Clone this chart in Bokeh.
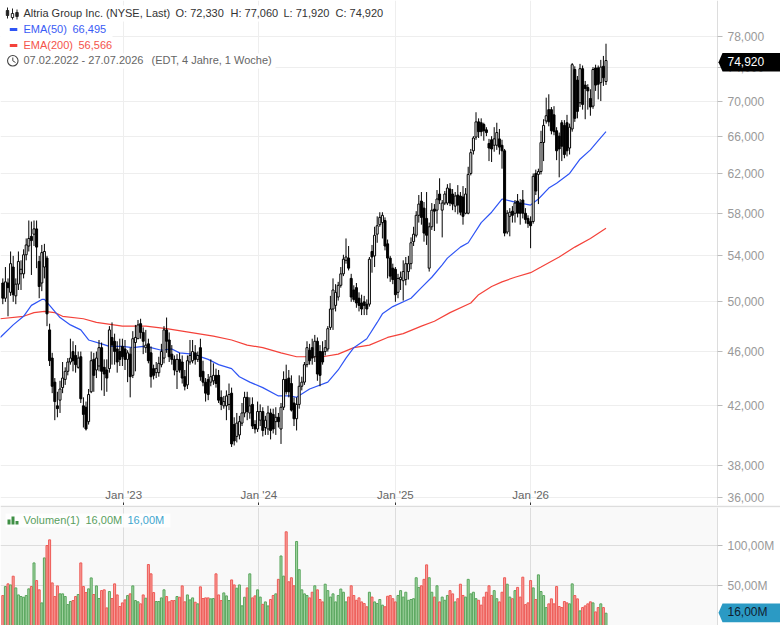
import math
from bokeh.plotting import figure
from bokeh.layouts import column
from bokeh.models import Range1d, FixedTicker, Label, ColumnDataSource
from bokeh.embed import file_html
from bokeh.resources import INLINE

title = "Altria Group Inc. (NYSE, Last)"
period = "07.02.2022 - 27.07.2026"
span = "(EDT, 4 Jahre, 1 Woche)"
last_price = 74.92
last_volume = 16.0

price_ticks = [78, 74, 70, 66, 62, 58, 54, 50, 46, 42, 38, 36]
volume_ticks = [100, 50]
jan_ticks = [46.5, 98.5, 151, 203]
jan_labels = ["Jan '23", "Jan '24", "Jan '25", "Jan '26"]

opens = [
51.6,50.3,51.6,50.8,53,50.5,51.5,52.4,52.4,54.1,
54.9,55.8,56,56.5,53.5,51.6,53,53.8,47.7,45.5,
43.7,42,42.4,43.3,43.9,44.5,45.2,46,45.7,44.8,
45.6,42,41.9,40.9,43,45.4,44.6,44.9,46.3,44.8,
44.6,44.7,47.1,46.8,46.2,46,46.4,46.2,45.4,45.8,
44.2,46.7,47,48.2,47.5,46.3,46.6,45.9,44.7,44.4,
44.4,45,45.5,47.7,46.9,45.8,45.4,44.5,45.4,45.2,
44.1,43.5,45.2,45.3,45.9,45.4,46.3,44.5,43.7,43.9,
43.7,43.8,44.2,44.2,42.6,42,42,42.1,42.9,40.7,
39.9,40,40.8,41.5,42.6,41.5,42.1,40.7,40.4,41,
41.6,40.5,40.4,41.5,41.4,40.9,41.2,40.4,41.9,43.9,
44,43.6,42.2,41.1,42.1,43.4,43.7,45,46.1,46.3,
45.6,46.8,46,46,46,46.2,47.9,49.4,49.7,50.4,
51.4,52.4,53.6,53.8,52,51,51.2,50.3,49.9,50,
49.8,49.8,54.4,54,56,56.9,57.1,57.3,55.1,53.8,
52.9,52.8,50.8,51.9,51.8,51.9,52.6,53.3,55.3,55.9,
57.8,59.2,58.5,57.5,52.9,56.7,58.4,58.3,59.9,58.3,
59,59,60.4,59.9,58.7,59.8,59.7,59.6,58,58,
62,64.4,65.9,67.6,67.5,67.3,66.7,65.2,65.6,65,
65,65.7,65,64.4,56.2,57.7,58.2,58,59.2,59,
59.3,58,57.5,57.2,57.2,62,61.9,62.2,65.3,67.7,
69,69,68.4,66.6,66,67.5,67.2,67.5,64.7,66.8,
73.8,72.5,69.8,73.9,71.9,71.6,70.3,69.4,74,74,
72.2,74.2,72.33]

highs = [
52,53,52,54.4,54,52,54.4,53.6,54.6,55.6,
57.3,57.2,57.3,57.3,54,55,55.1,54,48.2,45.9,
44,43,43.8,45.2,44.8,45.5,47,46.8,46.5,46,
46,42.6,42.3,43.2,46,45.9,46,46.9,46.7,45.4,
45.4,48,48.3,47.4,46.8,47,47,46.9,46.1,46.3,
47.6,48.1,48.5,48.6,47.9,47.7,47,46.4,45,45.2,
45.6,46.6,48,48.7,47.5,46.5,45.7,45.8,45.9,45.7,
44.6,45.7,46.9,46.9,46.5,46,47,45.3,44,44.3,
45.4,45.1,44.7,44.6,43.1,42.7,43.1,43.6,43.3,41.2,
41.5,41.3,42.2,43,43,42.6,42.6,41,42.3,42.1,
41.9,41.3,42,41.8,41.8,41.9,41.5,42.2,44.5,45,
44.6,44.2,42.6,42.6,44.2,44.1,45.2,46.8,46.6,47,
47.3,47.1,46.5,46.8,46.9,48,50.5,52,51.5,51.7,
53,54.1,55.6,54.9,52.4,51.4,51.6,50.8,50.6,50.5,
50.2,53.9,55,56.7,57.7,58.1,58.1,57.6,55.5,54,
53.3,53,52.4,52.6,53.6,53.9,54,55.7,56.7,58.2,
59.8,60.1,59.1,60.1,57.1,59,58.9,60.3,61.5,59.3,
60.2,60.9,61,60.4,60.1,60.8,60.1,60.7,60.5,62.7,
64.6,66,68.7,68,68,67.5,67,65.7,66,67,
67.5,66.8,65.6,64.6,58.3,58.5,58.7,59.3,59.9,59.4,
60.3,58.5,57.8,57.7,62,62.4,62.5,66.6,67.9,70.4,
70.8,69.3,69.4,67,66.4,67.8,67.8,68.4,67.4,74.6,
74.2,73,74.5,74.3,72.4,72,71.4,74.1,74.4,74.3,
75,75.5,77.06]

lows = [
49.8,50,48.8,50.5,50,49.8,51,51,52,53.6,
54.4,52.3,54.9,52.9,50.3,50.9,52,48,44.9,42.9,
41,41.2,41.5,42.9,43.5,44.2,45,44.5,44.4,44.7,
42.2,40.5,40.3,40.7,42.9,43,44,44.5,43.1,42.7,
43,44.4,45,45,44.4,44.9,44.9,44.6,43.7,42.6,
44,44.5,47,47,45.8,45.9,45.1,43.3,43.9,44,
44.1,44.8,45.1,45.9,45.2,45,44.2,43.2,44.4,43.6,
43.1,43.2,45,45.1,45,45.2,43.8,43.4,42.3,42.4,
43.4,43.5,43.3,42.2,41.7,41.8,41,41.7,39.2,39.3,
39.5,39.7,40.6,41.2,41,41.1,40.4,40.1,40.2,40.6,
39.9,40,40,39.7,40.1,40,40.5,39.4,41.7,42.8,
42.6,41.6,40.6,40.3,41.8,43.1,43.5,44.8,45,45,
45.2,43.8,43.4,45,45.7,46,47.7,47.7,49.2,50.1,
51.2,52.2,53.3,52.7,50,50,49.5,49.2,48.9,48.9,
48.9,49.6,52.5,53,55.2,56.7,55.6,54.5,52,51.7,
51.5,50,50.3,51,50.1,51.4,51.9,52.8,54.9,55.7,
57.1,56.9,55.3,55,52.6,56.4,56.3,57,58.9,55.7,
58.8,58.8,58.7,58.3,58.1,57.9,57.8,56.9,57.9,57.9,
61.8,64,65.6,65.8,66,65.5,66,63.3,63.2,64.3,
64.5,64,62.5,55.8,56,55.8,57.1,57.1,57.6,56.9,
57.5,57,56.6,54.7,57,59.8,58.9,61.9,63.3,67.4,
67.1,66.2,66.1,63.4,61.6,63.3,63.6,63.8,64,66.5,
67.6,68,69.3,69,67.9,69,68.3,69.1,71.2,70.2,
70,71.8,71.92]

closes = [
50.3,51.7,51.2,53.3,50.6,51.5,53.5,52.8,54.1,55,
55.6,55.4,56.5,54.8,51.3,54.3,54.4,49,45.3,43.4,
42.3,41.8,43.2,44,44.5,45.2,45.5,45.3,45,45.5,
42.5,41.4,40.4,42.8,45.3,44.2,45.5,46.3,44.5,44.3,
44,47.7,46.5,46,45.2,45.4,45.6,45.4,45.9,44.1,
47,47.1,48.1,47.5,46.8,46.5,45.3,44.1,44.2,44.7,
45.1,46,47.7,46.8,45.6,45.4,44.6,45.4,44.6,44,
43.4,45.3,45.7,46,45.4,45.7,44.1,43.7,42.9,42.8,
44.1,44.2,43.6,42.4,42.1,42.3,42.7,42.8,39.4,39.6,
40.8,40.9,41.5,42.6,41.6,42,40.6,40.4,41.6,41.6,
40.3,41,41.5,40.3,40.4,41.2,40.9,41.9,43.9,43,
43,41.7,41.1,42.1,43.4,43.7,45,46.3,45.3,45.5,
46.8,44.3,44.2,45.2,46.3,47.8,49.4,51,50.8,51.4,
52.4,53.7,53.9,52.9,50.4,50.2,49.9,49.7,49.4,49.7,
49.4,53.7,53.9,55.9,56.8,57.6,57.8,54.9,53.8,52.2,
51.9,50.6,52,52.1,52.6,53.3,53.3,55.2,56,57.8,
58.9,57.6,56.1,55.9,56.7,58.3,58.2,59.4,59.3,59,
59.9,60.5,59,58.9,59.7,58.8,58.1,57.7,59.9,61.9,
64.2,65.8,67.6,66.5,66.5,66.6,66.4,64.7,64.6,65.7,
66.4,64.8,64.4,56.1,58,58.1,57.8,59,58,58,
58,57.4,57,56.8,61.7,60.2,62.2,65.3,67.2,68.3,
67.6,66.6,66.5,64.4,64.6,64.9,64,64.4,67,74.4,
68,68.8,73.9,69.6,71.5,71.2,69.3,73.8,71.9,72,
74.1,72.8,74.92]

volumes = [
37.9,49.1,52.4,51.1,61.9,47.4,38.7,36.7,35.8,37.9,
46.2,49.1,78.4,56.5,45,28.8,84.6,100,107,53.6,
36.7,49.9,40,40,36.7,26.7,30.5,31.7,36.7,39.2,
78.4,49.1,41.6,46.2,59.8,39.2,49.9,34.2,44.1,45,
22.6,42.9,34.2,52.4,38.7,24.3,28.8,32.5,37.9,40,
49.9,31.7,30.1,27.6,38.7,34.6,76.4,64.8,41.6,30.5,
30.5,35,45,36.7,30.1,31.7,31.7,36.7,35.8,49.9,
30.1,38.7,32.5,35,29.6,27.6,48.7,34.2,35,35,
33.8,34.2,64.8,38.7,31.7,41.2,37.5,31.7,57.3,51.1,
47,51.1,25.1,35.8,47.4,64.8,35,37.5,45,36,
27,30,25,33,38,40,58,87,62,117,
55,60,50,105,70,45,40,38,35,42,
50,45,33,30,52,44,36,40,30,38,
46,42,30,36,50,38,32,35,30,28,
24,42,36,30,28,33,26,24,37,38,
34,30,38,44,36,42,32,33,34,60,
48,50,58,76,60,42,36,50,30,36,
32,38,44,40,30,34,52,38,36,58,
40,42,34,32,26,36,42,50,38,44,
34,30,42,60,52,36,34,44,48,36,
60.7,26.7,28.8,56.5,47.4,33,63.6,42.9,37.9,23,
27.6,33.8,27.6,49.1,24.3,23,30.5,28.8,27.6,52.4,
37.9,33.8,18.9,23,25.1,27.6,30.1,28.8,17.6,23,
27.6,23,16]

ema50_week = [-1,4,8,11,15,16,18,22,26,30,33,38,41,46,50,54,57,61,65,68,73,79,83,88,91,95,100,106,111,113,
              118,125,129,132,135,140,144,146,150,157,161,165,169,171,176,179,184,188,192,197,203,206,210,213,218,222,226,229,232]
ema50 = [47.1,48.1,48.8,49.7,50.2,50.2,49.7,48.7,48.1,47.7,46.9,46.6,46.4,46.4,46.3,46.4,46.3,46.1,46.2,45.9,45.8,45.4,45.0,44.7,44.1,43.7,43.3,42.7,42.7,42.6,
         43.2,43.7,44.6,45.5,46.3,47.0,48.3,49.0,49.6,50.3,51.2,52.1,53.2,53.8,54.8,55.2,57.1,58.1,59.4,59.1,58.8,59.4,60.5,61.0,62.0,63.5,64.5,65.5,66.495]
ema200_week = [-1,8,12,16,20,23,31,36,46,55,63,72,81,88,94,100,107,113,123,129,135,141,148,154,161,166,172,180,183,188,192,197,203,207,214,220,226,232]
ema200 = [48.6,48.8,49.1,49.2,49.1,48.8,48.6,48.3,48.0,48.0,47.8,47.5,47.2,46.9,46.5,46.3,45.9,45.6,45.6,45.8,46.3,46.5,47.1,47.4,48.0,48.4,49.1,49.9,50.6,51.3,51.7,52.1,52.5,53.0,53.9,54.8,55.6,56.566]

FONT = "Liberation Sans"
W, H1, H2 = 780, 505, 120
CANDLE_W = 0.77


def wk(px):
    return (px - 2.3) / 2.6


def pr(py):
    return 78 * math.exp(-(py - 36) / 596.6)


def vo(py):
    return (625.6 - py) / 0.806


x_start, x_end = wk(0), wk(780)
x_axis_pos = wk(717)
weeks = list(range(len(closes)))
up = [c >= o for o, c in zip(opens, closes)]

src = ColumnDataSource(dict(
    x=weeks, o=opens, h=highs, l=lows, c=closes,
    top=[max(a, b) for a, b in zip(opens, closes)],
    bot=[min(a, b) for a, b in zip(opens, closes)],
    fill=["#ffffff" if u else "#000000" for u in up],
    vol=volumes,
    vfill=["#a5d6a5" if u else "#f7a19e" for u in up],
    vline=["#58a55c" if u else "#ee5a55" for u in up],
))


def txt(p, h, top, px, py, s, color, level="annotation", size="11px"):
    p.add_layout(Label(x=px, y=h - (py - 1 - top), x_units="screen", y_units="screen", text=s,
                       text_color=color, text_font=FONT, text_font_size=size,
                       text_baseline="middle", level=level))


# ---- price panel
p1 = figure(width=W, height=H1, output_backend="svg", toolbar_location=None,
            x_range=Range1d(x_start, x_end), y_range=Range1d(pr(505), pr(0)),
            y_axis_type="log", y_axis_location="right", x_axis_location="above",
            min_border=0, min_border_left=0, min_border_right=0, min_border_top=0, min_border_bottom=0,
            outline_line_color=None)
xa = p1.xaxis[0]
xa.fixed_location = pr(505)
xa.ticker = FixedTicker(ticks=jan_ticks)
xa.major_label_overrides = dict(zip(jan_ticks, jan_labels))
xa.axis_line_color = None
xa.major_tick_in = 0
xa.major_tick_out = 3
xa.major_tick_line_color = "#333333"
xa.minor_tick_line_color = None
xa.major_label_text_color = "#666666"
xa.major_label_text_font = FONT
xa.major_label_text_font_size = "11.5px"
xa.major_label_standoff = 2

ya = p1.yaxis[0]
ya.fixed_location = x_axis_pos
ya.ticker = FixedTicker(ticks=price_ticks)
ya.major_label_overrides = {t: f"{t},000" for t in price_ticks}
ya.axis_line_color = "#dddddd"
ya.major_tick_in = 0
ya.major_tick_out = 5
ya.major_tick_line_color = "#bbbbbb"
ya.minor_tick_line_color = None
ya.major_label_text_color = "#999999"
ya.major_label_text_font = FONT
ya.major_label_text_font_size = "12px"
ya.major_label_standoff = 5
p1.grid.grid_line_color = "#eeeeee"
p1.grid.grid_line_width = 1

p1.quad(left=[x_axis_pos], right=[x_end], bottom=[pr(505)], top=[pr(0)], fill_color="#ffffff", line_color=None)
for x0, x1, y0, y1 in [(0, 387, 5, 21), (0, 112, 21, 37), (0, 118, 37, 53), (0, 275, 53, 68)]:
    p1.quad(left=[wk(x0)], right=[wk(x1)], bottom=[pr(y1)], top=[pr(y0)], fill_color="#ffffff", line_color=None)

p1.line(ema200_week, ema200, line_color="#f4423a", line_width=1.2)
p1.line(ema50_week, ema50, line_color="#2f55f5", line_width=1.2)
p1.segment("x", "h", "x", "l", source=src, line_color="#000000", line_width=1)
p1.vbar(x="x", top="top", bottom="bot", width=CANDLE_W, source=src, fill_color="fill", line_color="#000000", line_width=1)

# last price tag
p1.patch([wk(718), wk(722), wk(780), wk(780), wk(722)], [pr(61.7), pr(52.4), pr(52.4), pr(71), pr(71)],
         fill_color="#000000", line_color=None, level="annotation")
txt(p1, H1, 0, 727, 61.7, f"{last_price:.3f}".replace(".", ","), "#ffffff", level="overlay", size="12px")

# legend
p1.segment([wk(7), wk(12), wk(16.5)], [pr(7), pr(8), pr(9)], [wk(7), wk(12), wk(16.5)], [pr(18), pr(19), pr(19)],
           line_color="#222222", line_width=1)
p1.quad(left=[wk(5.8), wk(10.8), wk(15.3)], right=[wk(8.2), wk(13.2), wk(17.7)],
        bottom=[pr(15), pr(17), pr(16)], top=[pr(10), pr(13), pr(12)],
        fill_color=["#222222", "#ffffff", "#222222"], line_color="#222222", line_width=1)
p1.segment([wk(9.3)], [pr(29)], [wk(16.8)], [pr(29)], line_color="#2f55f5", line_width=3)
p1.segment([wk(9.3)], [pr(45)], [wk(16.8)], [pr(45)], line_color="#f4423a", line_width=3)
p1.scatter([wk(12.3)], [pr(60.3)], marker="circle", size=10.5, fill_color=None, line_color="#444444", line_width=1.1)
p1.segment([wk(12.3), wk(12.3)], [pr(57), pr(60.3)], [wk(12.3), wk(15)], [pr(60.3), pr(62)], line_color="#444444", line_width=1)

txt(p1, H1, 0, 23, 13, title, "#333333")
txt(p1, H1, 0, 175, 13, "O: 72,330", "#333333")
txt(p1, H1, 0, 230, 13, "H: 77,060", "#333333")
txt(p1, H1, 0, 283, 13, "L: 71,920", "#333333")
txt(p1, H1, 0, 335, 13, "C: 74,920", "#333333")
txt(p1, H1, 0, 23, 29, "EMA(50)", "#3a5cf5")
txt(p1, H1, 0, 72, 29, "66,495", "#3a5cf5")
txt(p1, H1, 0, 23, 45, "EMA(200)", "#f4534b")
txt(p1, H1, 0, 78, 45, "56,566", "#f4534b")
txt(p1, H1, 0, 23, 60.5, period, "#666666")
txt(p1, H1, 0, 151, 60.5, span, "#666666")

# ---- volume panel
p2 = figure(width=W, height=H2, output_backend="svg", toolbar_location=None,
            x_range=p1.x_range, y_range=Range1d(vo(625), vo(507)),
            y_axis_location="right", x_axis_location=None,
            min_border=0, min_border_left=0, min_border_right=0, min_border_top=2, min_border_bottom=0,
            border_fill_color="#dddddd", outline_line_color=None, background_fill_color="#ffffff")
p2.xgrid.ticker = FixedTicker(ticks=jan_ticks)
ya2 = p2.yaxis[0]
ya2.fixed_location = x_axis_pos
ya2.ticker = FixedTicker(ticks=volume_ticks)
ya2.major_label_overrides = {t: f"{t},00M" for t in volume_ticks}
ya2.axis_line_color = "#dddddd"
ya2.major_tick_in = 0
ya2.major_tick_out = 5
ya2.major_tick_line_color = "#bbbbbb"
ya2.minor_tick_line_color = None
ya2.major_label_text_color = "#999999"
ya2.major_label_text_font = FONT
ya2.major_label_text_font_size = "12px"
ya2.major_label_standoff = 5
p2.grid.grid_line_color = "#dddddd"

p2.quad(left=[x_start], right=[x_axis_pos], bottom=[vo(625)], top=[vo(507)], fill_color="#f9f9f9", line_color=None, level="image")
p2.quad(left=[x_axis_pos], right=[x_end], bottom=[vo(625)], top=[vo(507)], fill_color="#ffffff", line_color=None)
p2.vbar(x="x", top="vol", bottom=0, width=CANDLE_W, source=src, fill_color="vfill", line_color="vline", line_width=1)
p2.quad(left=[wk(5)], right=[wk(170)], bottom=[vo(527)], top=[vo(513)], fill_color="#ffffff", line_color=None, fill_alpha=0.85)
p2.quad(left=[wk(x) for x in (7, 11, 15)], right=[wk(x) for x in (10, 14, 18)],
        bottom=[vo(524)] * 3, top=[vo(519), vo(516), vo(520.5)], fill_color="#3f8f45", line_color=None)

p2.patch([wk(718), wk(722), wk(780), wk(780), wk(722)], [vo(612.3), vo(603), vo(603), vo(621.7), vo(621.7)],
         fill_color="#2b9ac4", line_color=None, level="annotation")
F2 = H2 - 2
txt(p2, F2, 507, 727, 612.5, f"{last_volume:.2f}".replace(".", ",") + "M", "#102030", level="overlay", size="12px")
txt(p2, F2, 507, 23, 520.5, "Volumen(1)", "#5a9e60")
txt(p2, F2, 507, 85, 520.5, "16,00M", "#5a9e60")
txt(p2, F2, 507, 127, 520.5, "16,00M", "#42a6cf")

page = column(p1, p2, spacing=0)
open("out.html", "w").write(file_html(page, INLINE))
